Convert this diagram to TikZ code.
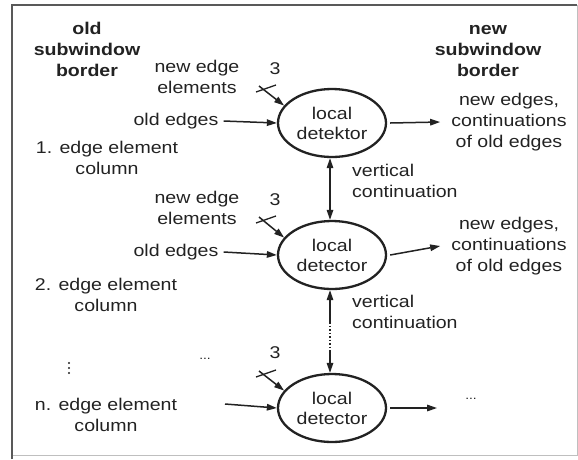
\documentclass[tikz,border=0pt]{standalone}
\usepackage{fontspec}
\setmainfont{Liberation Sans}[FakeStretch=1.15]
\usetikzlibrary{arrows.meta,shapes.geometric,calc}
\definecolor{ink}{HTML}{222222}
\begin{document}
\begin{tikzpicture}[x=1pt,y=-1pt,
  every node/.style={text=ink,font=\fontsize{17}{21}\selectfont,inner sep=0pt},
  txt/.style={align=center},
  ttl/.style={align=center,font=\fontsize{17}{21}\selectfont\bfseries},
  det/.style={ellipse,draw=ink,line width=2.3pt,minimum width=108pt,minimum height=68pt,align=center,font=\fontsize{17}{20}\selectfont},
  arr/.style={draw=ink,line width=1.5pt,-{Triangle[length=10pt,width=6.5pt]}},
  darr/.style={draw=ink,line width=1.5pt,{Triangle[length=10pt,width=6.5pt]}-{Triangle[length=10pt,width=6.5pt]}},
  tick/.style={draw=ink,line width=1.3pt}]
\useasboundingbox (0,0) rectangle (578,459);
% frame
\draw[line width=0.8pt,black!25] (577,5) -- (577,455) -- (12,455);
\draw[line width=2pt,black!65] (12,459) -- (12,5) -- (577,5);
% titles
\node[ttl] (osb) at (87,49) {old\\subwindow\\border};
\node[ttl] (nsb) at (488,51) {new\\subwindow\\border};
% detectors
\node[det] (e1) at (332,123) {local\\detektor};
\node[det] (e2) at (332,255) {local\\detector};
\node[det] (e3) at (332,408) {local\\detector};
% row 1
\node[txt] (nee1) at (197,77) {new edge\\elements};
\node (th1) at (275,69) {3};
\node[txt] (oe1) at (176,121) {old edges};
\node[txt] (ne1) at (509,122) {new edges,\\continuations\\of old edges};
\node[align=left,anchor=west] (vc1) at (352,181) {vertical\\continuation};
\node[txt] (c1) at (107,158) {1. edge element\\column};
% row 2
\node[txt] (nee2) at (197,208) {new edge\\elements};
\node (th2) at (275,200) {3};
\node[txt] (oe2) at (176,252) {old edges};
\node[txt] (ne2) at (509,246) {new edges,\\continuations\\of old edges};
\node[align=left,anchor=west] (vc2) at (352,312) {vertical\\continuation};
\node[txt] (c2) at (106,295) {2. edge element\\column};
% row 3
\foreach \yy in {363,368,373} \fill[ink] (69,\yy) circle (1.1pt);
\node (d1) at (205,359) {\fontsize{12}{12}\selectfont...};
\node (th3) at (275,353) {3};
\node[txt] (cn) at (106,415) {n. edge element\\column};
\node (d2) at (471,399) {\fontsize{12}{12}\selectfont...};
% coordinates
\coordinate (s1) at (259,86);
\coordinate (s2) at (259,217);
\coordinate (s3) at (259,371);
\coordinate (in3) at (225,404);
\coordinate (m1) at (330,322);
\coordinate (m2) at (330,352);
% slash arrows (3 lines)
\foreach \s/\e in {s1/e1,s2/e2,s3/e3}{
  \draw[arr] (\s) -- (\e.160);
  \draw[tick] ($(\s)+(-3,6)$) -- ($(\s)+(17,-1)$);
}
% old edges
\draw[arr] ([xshift=5pt]oe1.east) -- (e1.west);
\draw[arr] ([xshift=5pt]oe2.east) -- (e2.west);
\draw[arr] (in3) -- (e3.west);
% outputs
\draw[arr] ([xshift=3pt]e1.east) -- ([xshift=-11pt]ne1.west);
\draw[arr] ([xshift=3pt]e2.east) -- ([xshift=-11pt]ne2.west);
\draw[arr] ([xshift=3pt]e3.east) -- ([xshift=-28pt]d2.west |- e3.east);
% vertical continuation
\draw[darr] ([xshift=-2pt]e1.south) -- ([xshift=-2pt]e2.north);
\draw[arr] (m1) -- ([xshift=-2pt]e2.south);
\draw[draw=ink,line width=1.5pt,dotted] (m1) -- (m2);
\draw[arr] (m2) -- ([xshift=-2pt]e3.north);
\end{tikzpicture}
\end{document}
